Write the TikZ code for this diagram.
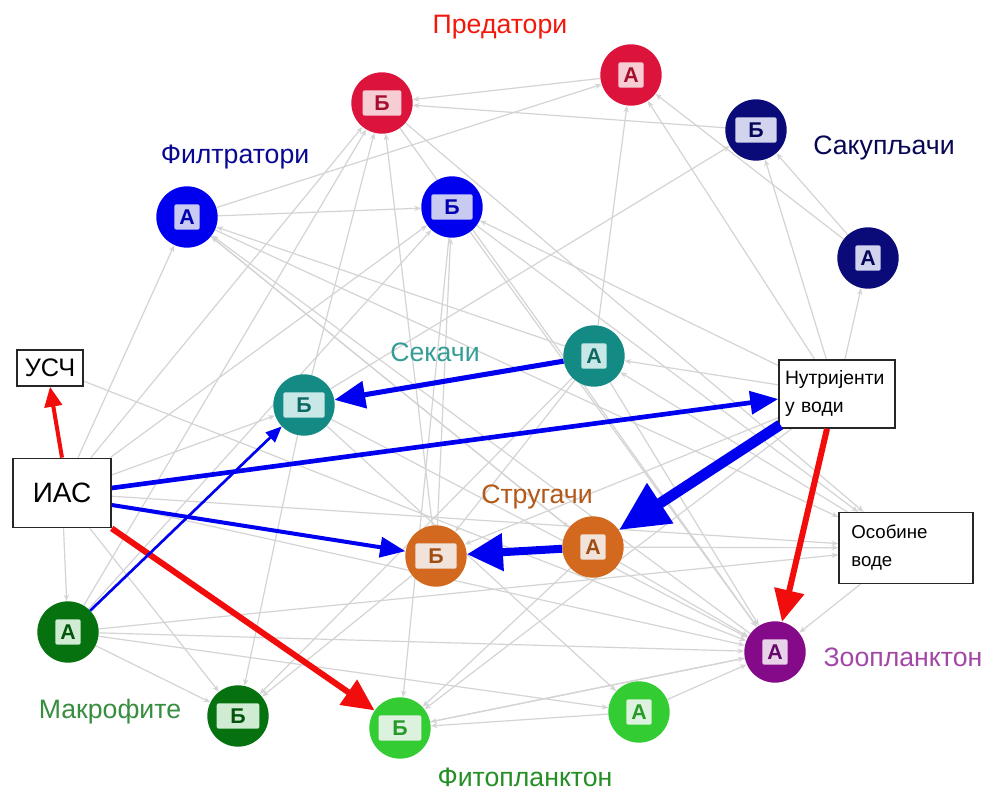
\documentclass[tikz,border=0pt]{standalone}
\usepackage{fontspec}
\setmainfont{Liberation Sans}
\usetikzlibrary{arrows.meta}
\pgfdeclarelayer{background}
\pgfdeclarelayer{bottom}
\pgfsetlayers{bottom,background,main}
\definecolor{cPred}{HTML}{DC143C}
\definecolor{cPredL}{HTML}{F6CDD3}
\definecolor{cSak}{HTML}{0A0A78}
\definecolor{cSakL}{HTML}{D2D4EE}
\definecolor{cFil}{HTML}{0000EE}
\definecolor{cFilL}{HTML}{C9CAF2}
\definecolor{cSek}{HTML}{138A84}
\definecolor{cSekL}{HTML}{C8E8E8}
\definecolor{cStr}{HTML}{D2691E}
\definecolor{cStrL}{HTML}{F1E2DA}
\definecolor{cMak}{HTML}{05720F}
\definecolor{cMakL}{HTML}{CFEBD2}
\definecolor{cFit}{HTML}{33CC33}
\definecolor{cFitL}{HTML}{DDF2DE}
\definecolor{cZoo}{HTML}{850A8A}
\definecolor{cZooL}{HTML}{E8D2EA}
\definecolor{gEdge}{HTML}{D4D4D4}
\definecolor{aBlue}{HTML}{0000F0}
\definecolor{aRed}{HTML}{F20D0D}
\newcommand\bionode[6]{%
  \node[bcirc, fill=#3] (#1) at #2 {};
  \node[btag, fill=#4, text=#3!75!black, minimum width=#6] (#1t) at #2 {#5};
}
\tikzset{
  bcirc/.style={circle, minimum size=46pt, inner sep=0pt},
  btag/.style={rectangle, rounded corners=1.5pt, inner sep=0pt, minimum height=19pt,
     font=\fontsize{16}{16}\selectfont\bfseries},
  gedge/.style={draw=gEdge, line width=0.9pt, -{Stealth[length=5pt,width=4pt]}},
  grp/.style={font=\fontsize{20}{22}\selectfont},
  vbox/.style={draw=black!85, line width=1.1pt, fill=white, rectangle, inner sep=0pt},
}
\begin{document}
\begin{tikzpicture}[x=0.75pt,y=-0.75pt]
\useasboundingbox (0,0) rectangle (992,791);
\begin{pgfonlayer}{bottom}
\fill[white] (0,0) rectangle (992,791);
\end{pgfonlayer}

% nodes
\bionode{PB}{(382,103)}{cPred}{cPredL}{Б}{29pt}
\bionode{PA}{(631,75)}{cPred}{cPredL}{А}{19pt}
\bionode{SB}{(756,130)}{cSak}{cSakL}{Б}{31pt}
\bionode{SA}{(868,258)}{cSak}{cSakL}{А}{19pt}
\bionode{FA}{(187,217)}{cFil}{cFilL}{А}{19pt}
\bionode{FB}{(452,207)}{cFil}{cFilL}{Б}{31pt}
\bionode{KA}{(594,356)}{cSek}{cSekL}{А}{19pt}
\bionode{KB}{(304,405)}{cSek}{cSekL}{Б}{31pt}
\bionode{GA}{(593,547)}{cStr}{cStrL}{А}{19pt}
\bionode{GB}{(436,556)}{cStr}{cStrL}{Б}{31pt}
\bionode{MA}{(68,632)}{cMak}{cMakL}{А}{19pt}
\bionode{MB}{(238,716)}{cMak}{cMakL}{Б}{32pt}
\bionode{TB}{(400,728)}{cFit}{cFitL}{Б}{32pt}
\bionode{TA}{(639,712)}{cFit}{cFitL}{А}{19pt}
\bionode{Z}{(775,652)}{cZoo}{cZooL}{А}{19pt}

\node[vbox, minimum width=49.5pt, minimum height=27pt, font=\fontsize{19}{20}\selectfont] (USC) at (50,368) {УСЧ};
\node[vbox, minimum width=73.5pt, minimum height=52pt, font=\fontsize{21}{22}\selectfont] (IAS) at (62,493) {ИАС};
\node[vbox, minimum width=87pt, minimum height=51pt, font=\fontsize{14.5}{21}\selectfont, align=left, text width=78pt] (NUT) at (837,394) {Нутријенти\\у води};
\node[vbox, minimum width=100.5pt, minimum height=53pt, font=\fontsize{14}{21}\selectfont, align=left, text width=82pt] (OSO) at (906,548) {Особине\\воде};

% group labels
\node[grp, text=aRed!90!orange] (lPred) at (500,27) {Предатори};
\node[grp, text=cSak!80!blue] (lFil) at (235,157) {Филтратори};
\node[grp, text=cSak!70!black] (lSak) at (884,148) {Сакупљачи};
\node[grp, text=cSek!85!white] (lSek) at (435,352) {Секачи};
\node[grp, text=cStr!85!black] (lStr) at (537,497) {Стругачи};
\node[grp, text=cMak!80!white] (lMak) at (110,712) {Макрофите};
\node[grp, text=cFit!70!black] (lFit) at (525,777) {Фитопланктон};
\node[grp, text=cZoo!75!white] (lZoo) at (903,657) {Зоопланктон};

% gray edges
\begin{pgfonlayer}{background}
\foreach \s/\t in {PA/PB, SB/PB, KB/PB, MA/PB, GB/PB, IAS/PB,
  FA/FB, IAS/FB, GB/FB, NUT/FB, MA/FB,
  FA/PA, KA/PA, NUT/PA, SA/PA,
  NUT/SB, SA/SB, KB/SB, NUT/SA,
  IAS/FA, KA/FA, GA/FA, Z/FA,
  NUT/KA, OSO/KA, MA/KB, IAS/KB,
  IAS/MA, MA/MB, IAS/MB, GB/MB, KB/MB, KA/MB,
  FB/TB, TA/TB, Z/TB, GA/TB, NUT/TB,
  MA/OSO, IAS/OSO, GA/OSO, FA/OSO, FB/OSO, PB/OSO,
  KB/Z, IAS/Z, GA/Z, TA/Z, TB/Z, MA/Z, OSO/Z, KA/Z, FB/Z,
  KB/TA, MA/TA, FA/GA, PB/Z, USC/Z, NUT/GB, KA/GB}
  \draw[gedge] (\s) -- (\t);
\end{pgfonlayer}

% coloured edges
\draw[aRed, line width=3pt, -{Triangle[length=15pt,width=13pt]}] (IAS.north) -- (USC.south);
\draw[aRed, line width=4.5pt, -{Triangle[length=24pt,width=22pt]}] (IAS.south east) -- (TB);
\draw[aBlue, line width=3.5pt, -{Triangle[length=21pt,width=17pt]}] (IAS.east) ++(0,-5) -- (NUT.west |- 0,399);
\draw[aBlue, line width=3pt, -{Triangle[length=19pt,width=15pt]}] (IAS.east) ++(0,12) -- (GB);
\draw[aBlue, line width=2pt, -{Triangle[length=12pt,width=10pt]}] (MA) -- (KB);
\draw[aBlue, line width=3.8pt, -{Triangle[length=23pt,width=20pt]}] (KA) -- (KB);
\draw[aBlue, line width=8pt, -{Triangle[length=37pt,width=34pt]}] (NUT.south west) ++(2,-4) -- (GA);
\draw[aBlue, line width=6pt, -{Triangle[length=27pt,width=27pt]}] (GA) -- (GB);
\draw[aRed, line width=4.5pt, -{Triangle[length=24pt,width=22pt]}] (NUT.south) ++(-10,0) -- (Z);
\end{tikzpicture}
\end{document}
